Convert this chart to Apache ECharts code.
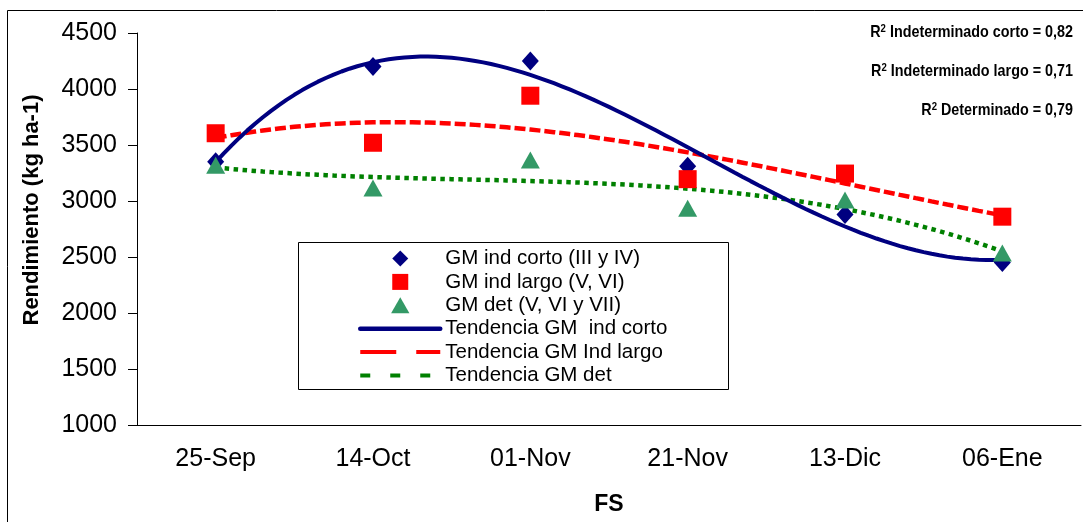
<!DOCTYPE html>
<html>
<head>
<meta charset="utf-8">
<script src="https://cdn.jsdelivr.net/npm/echarts@6/dist/echarts.min.js"></script>
<style>
  html, body { margin: 0; padding: 0; background: #fff; }
  #chart { width: 1083px; height: 522px; }
</style>
</head>
<body>
<div id="chart"></div>
<script>
// fechas de siembra (FS)
const categories = ["25-Sep", "14-Oct", "01-Nov", "21-Nov", "13-Dic", "06-Ene"];
// rendimiento (kg ha-1)
const indCorto = [3350, 4200, 4250, 3310, 2880, 2450];
const indLargo = [3605, 3520, 3940, 3195, 3245, 2860];
const determinado = [3320, 3115, 3365, 2935, 3010, 2535];
const yTicks = { min: 1000, max: 4500, step: 500 };
const r2Labels = [
  ["Indeterminado corto", "0,82"],
  ["Indeterminado largo", "0,71"],
  ["Determinado", "0,79"],
];
const legendNames = [
  "GM ind corto (III y IV)",
  "GM ind largo (V, VI)",
  "GM det (V, VI y VII)",
  "Tendencia GM  ind corto",
  "Tendencia GM Ind largo",
  "Tendencia GM det",
];

const FONT = "'Liberation Sans', Arial, sans-serif";

// tendencia polinómica (mínimos cuadrados, grado 3) como la línea de tendencia de Excel
function polyFit(ys, deg) {
  const n = deg + 1;
  const A = Array.from({ length: n }, () => new Array(n + 1).fill(0));
  ys.forEach((y, i) => {
    const x = i + 1;
    for (let r = 0; r < n; r++) {
      for (let c = 0; c < n; c++) A[r][c] += Math.pow(x, r + c);
      A[r][n] += y * Math.pow(x, r);
    }
  });
  for (let p = 0; p < n; p++) {
    let best = p;
    for (let r = p + 1; r < n; r++) if (Math.abs(A[r][p]) > Math.abs(A[best][p])) best = r;
    [A[p], A[best]] = [A[best], A[p]];
    for (let r = 0; r < n; r++) {
      if (r === p) continue;
      const f = A[r][p] / A[p][p];
      for (let c = p; c <= n; c++) A[r][c] -= f * A[p][c];
    }
  }
  return A.map((row, i) => row[n] / row[i]);
}
function trend(ys) {
  const coef = polyFit(ys, 3);
  const out = [];
  for (let k = 0; k <= 100; k++) {
    const x = 1 + (5 * k) / 100;
    out.push([x, coef.reduce((s, c, i) => s + c * Math.pow(x, i), 0)]);
  }
  return out;
}
const pts = (ys) => ys.map((y, i) => [i + 1, y]);

const hideDot = { opacity: 0 };

const chart = echarts.init(document.getElementById("chart"), null, { renderer: "canvas" });

chart.setOption({
  animation: false,
  textStyle: { fontFamily: FONT },
  grid: { left: 137, right: 2, top: 33, bottom: 97 },
  xAxis: [
    {
      type: "category",
      data: categories,
      boundaryGap: true,
      axisLine: { lineStyle: { color: "#000", width: 1 } },
      axisTick: { length: 8, lineStyle: { color: "#000" } },
      axisLabel: { color: "#000", fontSize: 25, fontFamily: FONT, margin: 22 },
      name: "FS",
      nameLocation: "middle",
      nameGap: 68,
      nameTextStyle: { color: "#000", fontSize: 23, fontWeight: "bold", fontFamily: FONT },
      splitLine: { show: false },
    },
    { type: "value", min: 0.5, max: 6.5, show: false },
  ],
  yAxis: {
    type: "value",
    min: yTicks.min,
    max: yTicks.max,
    interval: yTicks.step,
    axisLine: { show: true, lineStyle: { color: "#000" } },
    axisTick: { show: true, length: 9, lineStyle: { color: "#000" } },
    axisLabel: { color: "#000", fontSize: 25, fontFamily: FONT, margin: 20, formatter: (v) => String(v) },
    splitLine: { show: false },
  },
  legend: {
    orient: "vertical",
    left: 358,
    top: 248,
    padding: 0,
    itemWidth: 80,
    itemHeight: 16,
    itemGap: 2.4,
    symbolKeepAspect: true,
    data: [
      { name: legendNames[0], icon: "path://M1,0L2,1L1,2L0,1Z" },
      { name: legendNames[1], icon: "path://M0,0L1,0L1,1L0,1Z" },
      { name: legendNames[2], icon: "path://M8,0L16,14L0,14Z" },
      { name: legendNames[3], itemStyle: hideDot, lineStyle: { width: 4.5, cap: "round" } },
      { name: legendNames[4], itemStyle: hideDot, lineStyle: { width: 4, type: [36, 20] } },
      { name: legendNames[5], itemStyle: hideDot, lineStyle: { width: 4, type: [10, 20] } },
    ],
    textStyle: { color: "#000", fontSize: 20.5, lineHeight: 20, fontFamily: FONT },
  },
  graphic: [
    { type: "rect", shape: { x: 7.5, y: 10.5, width: 1100, height: 600 }, style: { fill: null, stroke: "#000", lineWidth: 1 }, z: 100, silent: true },
    { type: "rect", shape: { x: 298.5, y: 242.5, width: 430, height: 147 }, style: { fill: "#fff", stroke: "#000", lineWidth: 1 }, z: 0, silent: true },
    {
      type: "text",
      x: 32,
      y: 210,
      rotation: Math.PI / 2,
      style: {
        text: "Rendimiento (kg ha-1)",
        fontSize: 22,
        fontWeight: "bold",
        fontFamily: FONT,
        fill: "#000",
        align: "center",
        verticalAlign: "middle",
      },
    },
    // R² en tipografía algo condensada, como en el original
    ...r2Labels.map((r, i) => ({
      type: "text",
      x: 1073,
      y: 32 + i * 39,
      scaleX: 0.87,
      style: {
        text: "{b|R}{s|2}{b| " + r[0] + " = " + r[1] + "}",
        align: "right",
        verticalAlign: "middle",
        rich: {
          b: { fontSize: 16.5, fontWeight: "bold", fontFamily: FONT, fill: "#000", lineHeight: 18, verticalAlign: "middle" },
          s: { fontSize: 11, fontWeight: "bold", fontFamily: FONT, fill: "#000", lineHeight: 10, verticalAlign: "top" },
        },
      },
    })),
  ],
  series: [
    {
      name: legendNames[0], type: "scatter", xAxisIndex: 1, data: pts(indCorto),
      symbol: "diamond", symbolSize: [17, 19], itemStyle: { color: "#000080", opacity: 1 }, z: 5,
    },
    {
      name: legendNames[1], type: "scatter", xAxisIndex: 1, data: pts(indLargo),
      symbol: "rect", symbolSize: 18, itemStyle: { color: "#FF0000", opacity: 1 }, z: 5,
    },
    {
      name: legendNames[2], type: "scatter", xAxisIndex: 1, data: pts(determinado),
      symbol: "triangle", symbolSize: [19, 17], itemStyle: { color: "#339966", opacity: 1 }, z: 5,
    },
    {
      name: legendNames[3], type: "line", xAxisIndex: 1, data: trend(indCorto),
      symbol: "none", lineStyle: { color: "#000080", width: 4, type: "solid" }, itemStyle: { color: "#000080" }, z: 4,
    },
    {
      name: legendNames[4], type: "line", xAxisIndex: 1, data: trend(indLargo),
      symbol: "none", lineStyle: { color: "#FF0000", width: 4.5, type: [11, 4] }, itemStyle: { color: "#FF0000" }, z: 3,
    },
    {
      name: legendNames[5], type: "line", xAxisIndex: 1, data: trend(determinado),
      symbol: "none", lineStyle: { color: "#008000", width: 4.5, type: [4.5, 4.5] }, itemStyle: { color: "#008000" }, z: 3,
    },
  ],
});
</script>
</body>
</html>
